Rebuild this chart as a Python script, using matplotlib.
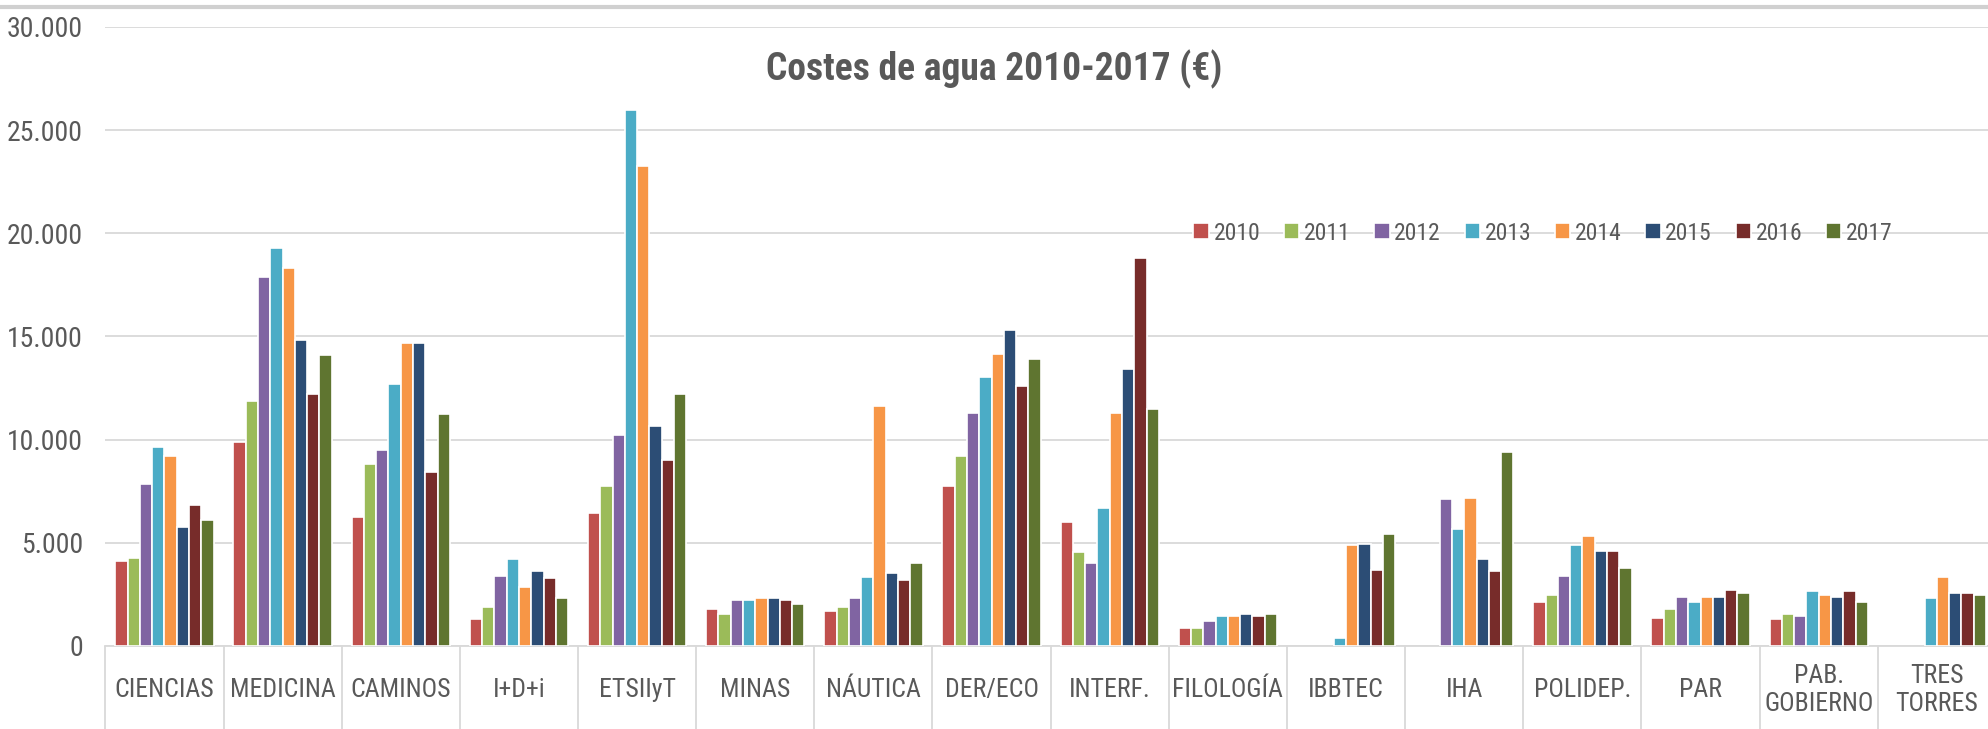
import numpy as np
import matplotlib.pyplot as plt
from matplotlib.ticker import FuncFormatter, FixedLocator

# ========data
categories = ["CIENCIAS", "MEDICINA", "CAMINOS", "I+D+i", "ETSIIyT", "MINAS", "NÁUTICA",
              "DER/ECO", "INTERF.", "FILOLOGÍA", "IBBTEC", "IHA", "POLIDEP.", "PAR",
              "PAB.\nGOBIERNO", "TRES\nTORRES"]
years = ["2010", "2011", "2012", "2013", "2014", "2015", "2016", "2017"]
nan = np.nan
v2010 = [4100, 9870, 6260, 1310, 6440, 1800, 1710, 7750, 5990, 880, nan, nan, 2120, 1370, 1310, nan]
v2011 = [4280, 11850, 8830, 1890, 7750, 1530, 1870, 9210, 4530, 880, nan, nan, 2460, 1800, 1530, nan]
v2012 = [7840, 17880, 9480, 3380, 10200, 2210, 2300, 11310, 4030, 1220, nan, 7100, 3380, 2390, 1460, nan]
v2013 = [9640, 19280, 12700, 4210, 25970, 2210, 3360, 13020, 6670, 1460, 400, 5680, 4870, 2120, 2640, 2300]
v2014 = [9210, 18310, 14660, 2860, 23270, 2300, 11620, 14170, 11310, 1460, 4870, 7160, 5340, 2390, 2460, 3360]
v2015 = [5740, 14840, 14660, 3630, 10650, 2300, 3510, 15320, 13420, 1530, 4960, 4210, 4600, 2390, 2390, 2550]
v2016 = [6820, 12190, 8420, 3290, 8990, 2210, 3200, 12610, 18810, 1460, 3690, 3630, 4600, 2700, 2640, 2550]
v2017 = [6080, 14080, 11220, 2320, 12190, 2030, 4010, 13920, 11460, 1530, 5430, 9410, 3780, 2550, 2120, 2460]
series = [v2010, v2011, v2012, v2013, v2014, v2015, v2016, v2017]
colors = ["#C0504D", "#9BBB59", "#8064A2", "#4BACC6", "#F79646", "#2C4D75", "#772C2A", "#5F7530"]

plt.rcParams["font.family"] = ["Roboto Condensed", "Liberation Sans", "DejaVu Sans"]
text_color = "#595959"
grid_color = "#D9D9D9"

fig = plt.figure(figsize=(19.88, 7.29), dpi=100)
ax = fig.add_axes([0.053, 0.114, 0.951, 0.849])

slot = 0.104
x = np.arange(len(categories)) + 0.5
for k, (vals, c) in enumerate(zip(series, colors)):
    ax.bar(x + (k - 3.5) * slot, vals, width=slot, color=c, edgecolor="white",
           linewidth=1.2, label=years[k], zorder=3)

ax.set_xlim(0, len(categories))
ax.set_ylim(0, 30000)
ax.set_yticks(np.arange(0, 30001, 5000))
ax.yaxis.set_major_formatter(FuncFormatter(lambda v, p: "{:,.0f}".format(v).replace(",", ".")))
ax.grid(axis="y", color=grid_color, linewidth=1.3, zorder=0)
ax.tick_params(axis="y", length=0, pad=16, labelsize=20, labelcolor=text_color)

# category labels + separators hanging below the axis
ax.set_xticks(x)
ax.set_xticklabels(categories, va="center", linespacing=1.2)
ax.tick_params(axis="x", which="major", length=0, pad=32, labelsize=18.5, labelcolor=text_color)
ax.xaxis.set_minor_locator(FixedLocator(np.arange(0, len(categories) + 1)))
ax.tick_params(axis="x", which="minor", length=62, width=1.3, color=grid_color)

for s in ["top", "right", "left"]:
    ax.spines[s].set_visible(False)
ax.spines["bottom"].set_color(grid_color)
ax.spines["bottom"].set_linewidth(1.3)

fig.text(0.5, 1 - 69 / 729, "Costes de agua 2010-2017 (€)", ha="center", va="center",
         fontsize=27, fontweight="bold", color=text_color)

ax.legend(loc="center", bbox_to_anchor=(1543 / 1988, 1 - 233 / 729), bbox_transform=fig.transFigure,
          ncol=8, frameon=False, fontsize=17, labelcolor=text_color, handlelength=0.65,
          handleheight=0.65, handletextpad=0.2, columnspacing=1.0)

# top frame line
fig.add_artist(plt.Line2D([0, 1], [1 - 7 / 729, 1 - 7 / 729], transform=fig.transFigure,
                          color="#D0D0D0", linewidth=3))

fig.savefig("out.png", dpi=100)
